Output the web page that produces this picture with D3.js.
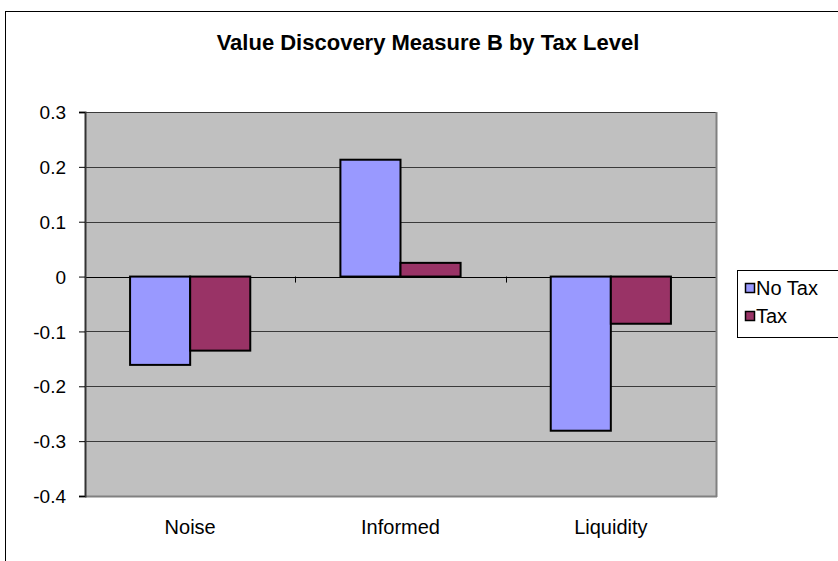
<!DOCTYPE html>
<html><head><meta charset="utf-8">
<script src="https://cdn.jsdelivr.net/npm/d3@7"></script>
<style>body{margin:0;background:#fff}svg{display:block;font-family:"Liberation Sans",Arial,sans-serif}</style>
</head><body><svg id="c" width="838" height="561"></svg>
<script>
const categories = ["Noise", "Informed", "Liquidity"];
const seriesNames = ["No Tax", "Tax"];
const noTax = [-0.161, 0.213, -0.281];
const tax = [-0.135, 0.025, -0.086];
const yTicks = [0.3, 0.2, 0.1, 0, -0.1, -0.2, -0.3, -0.4];
const colors = ["#9999FF", "#993366"];

const svg = d3.select("#c");
const L = 85, R = 716, T = 112, B = 496;

svg.append("rect").attr("x",5.5).attr("y",11.5).attr("width",900).attr("height",700)
  .attr("fill","#fff").attr("stroke","#000").attr("stroke-width",1);

svg.append("text").attr("x",428).attr("y",50).attr("text-anchor","middle")
  .attr("font-size",22).attr("font-weight","bold").text("Value Discovery Measure B by Tax Level");

const y = d3.scaleLinear().domain([-0.4,0.3]).range([B,T]);
const xc = d3.scaleBand().domain(categories).range([L,R]);
const x1 = d3.scaleBand().domain(seriesNames).range([0, xc.bandwidth()*2/3.5]);

svg.append("rect").attr("x",L).attr("y",T).attr("width",R-L).attr("height",B-T).attr("fill","#C0C0C0");

// gridlines
svg.append("g").selectAll("line").data(yTicks).join("line")
  .attr("x1",L).attr("x2",R).attr("y1",d=>Math.round(y(d))+0.5).attr("y2",d=>Math.round(y(d))+0.5)
  .attr("stroke",d=>d===0?"#000":"#3a3a3a").attr("stroke-width",1);

// plot border right/bottom
svg.append("line").attr("x1",R+0.5).attr("x2",R+0.5).attr("y1",T).attr("y2",B+1).attr("stroke","#808080").attr("stroke-width",2);
svg.append("line").attr("x1",L).attr("x2",R+1).attr("y1",B+0.5).attr("y2",B+0.5).attr("stroke","#808080").attr("stroke-width",2);

// bars
const data = [noTax, tax];
const gOff = (xc.bandwidth() - xc.bandwidth()*2/3.5)/2;
data.forEach((vals, si) => {
  svg.append("g").selectAll("rect").data(vals).join("rect")
    .attr("x",(d,i)=>xc(categories[i]) + gOff + x1(seriesNames[si]))
    .attr("width",x1.bandwidth())
    .attr("y",d=>y(Math.max(0,d)))
    .attr("height",d=>Math.abs(y(d)-y(0)))
    .attr("fill",colors[si]).attr("stroke","#000").attr("stroke-width",2);
});

// y axis
const ya = d3.axisLeft(y).tickValues(yTicks).tickSize(6).tickFormat(d=>d===0?"0":d3.format(".1f")(d).replace("−","-"));
const yg = svg.append("g").attr("transform",`translate(${L},0)`).call(ya);
yg.select(".domain").attr("stroke","#333").attr("stroke-width",2);
yg.selectAll(".tick line").attr("stroke","#000");
yg.selectAll("text").attr("font-size",19).attr("fill","#000").attr("x",-19).attr("dy","0.35em")
  .attr("font-family","Liberation Sans, Arial, sans-serif");

// category ticks at boundaries on the zero line
const bounds = categories.slice(1).map(c=>xc(c));
svg.append("g").selectAll("line").data(bounds).join("line")
  .attr("x1",d=>Math.round(d)+0.5).attr("x2",d=>Math.round(d)+0.5)
  .attr("y1",y(0)).attr("y2",y(0)+6).attr("stroke","#000");

// category labels
svg.append("g").selectAll("text").data(categories).join("text")
  .attr("x",d=>xc(d)+xc.bandwidth()/2).attr("y",534).attr("text-anchor","middle")
  .attr("font-size",20).text(d=>d);

// legend
const lg = svg.append("g");
lg.append("rect").attr("x",737.5).attr("y",270.5).attr("width",120).attr("height",67)
  .attr("fill","#fff").attr("stroke","#000");
seriesNames.forEach((n,i)=>{
  const yy = 288 + i*28;
  lg.append("rect").attr("x",745.5).attr("y",yy-4.5).attr("width",9).attr("height",9)
    .attr("fill",colors[i]).attr("stroke","#000").attr("stroke-width",1.5);
  lg.append("text").attr("x",756).attr("y",yy+7).attr("font-size",20).text(n);
});
</script></body></html>
